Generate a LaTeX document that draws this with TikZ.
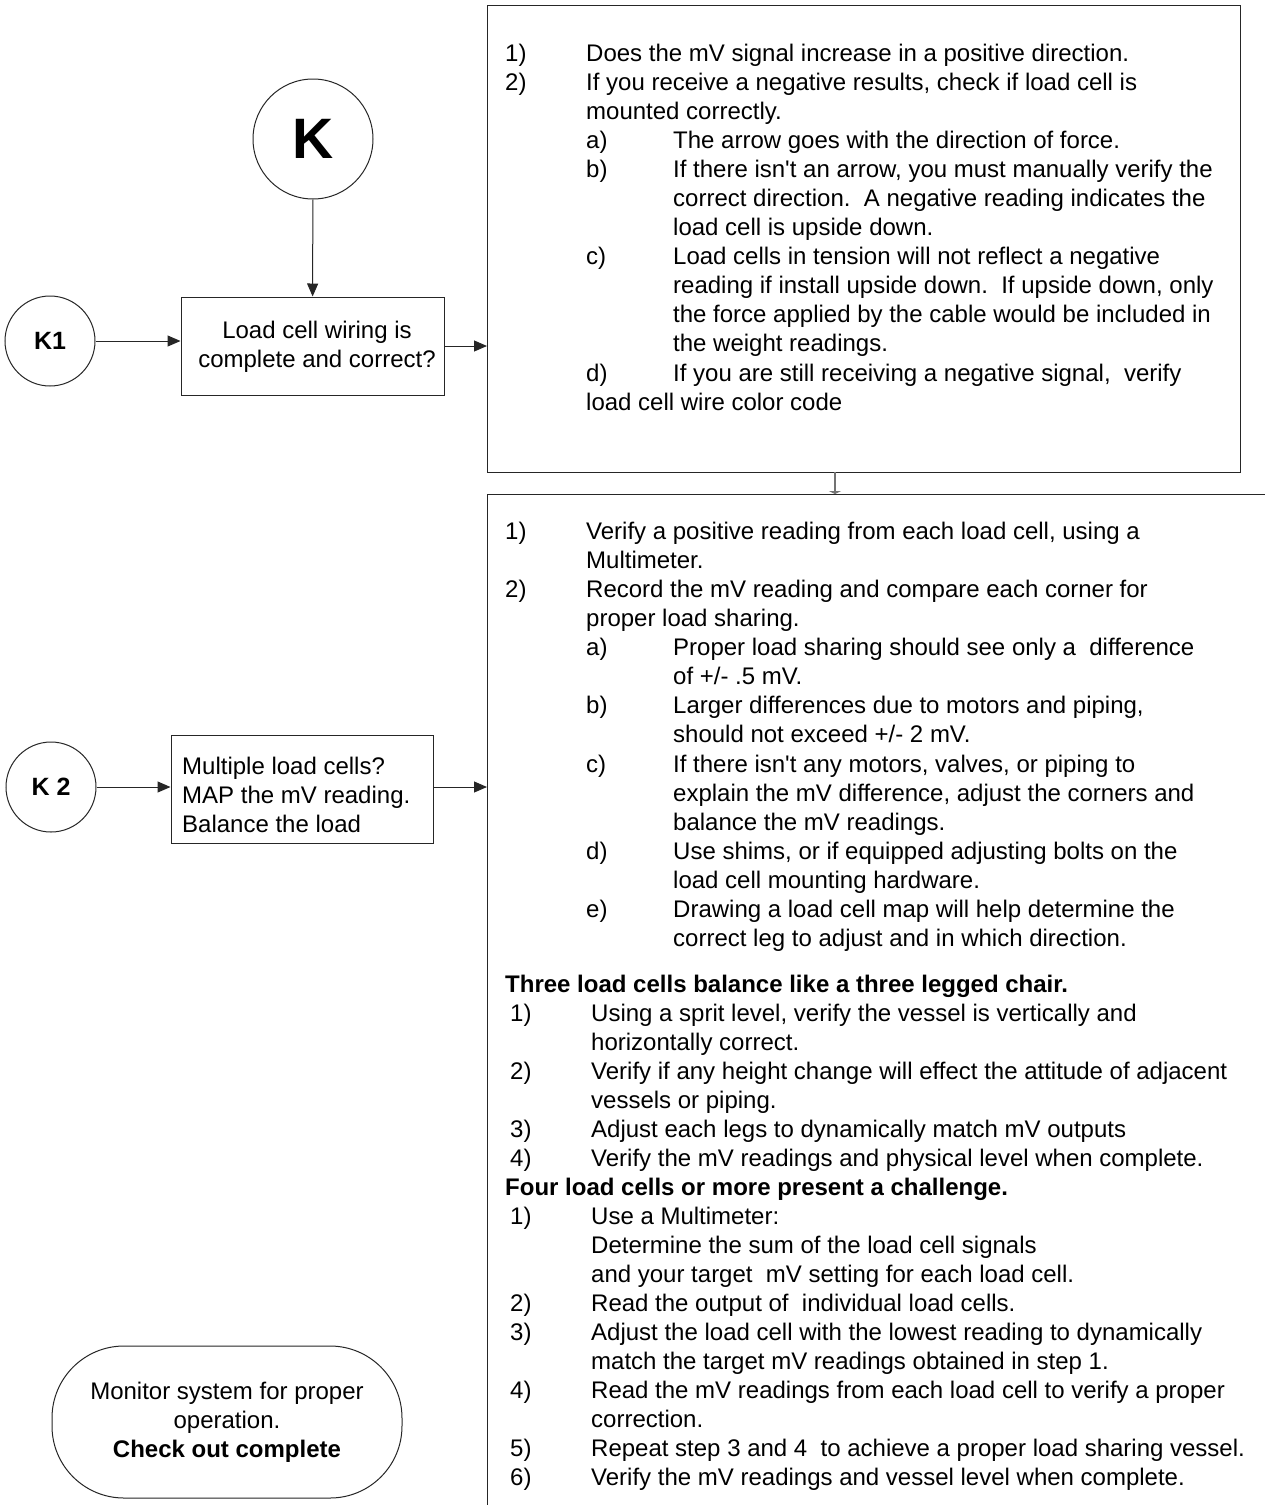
\documentclass[tikz,border=0pt]{standalone}
\usepackage{fontspec}
\setmainfont{Liberation Sans}
\usetikzlibrary{arrows.meta}
\newcommand{\apos}{\textquotesingle}
\tikzset{
  ln/.style={anchor=base west,inner sep=0pt,font=\fontsize{24}{29}\selectfont},
  lb/.style={ln,font=\fontsize{24}{29}\selectfont\bfseries},
  frame/.style={draw=black!85,line width=1pt},
  conn/.style={draw=black!85,line width=1pt,-{Triangle[length=13pt,width=11pt]}},
  circ/.style={frame,circle,inner sep=0pt},
  box/.style={frame,rectangle,inner sep=0pt,font=\fontsize{24}{29}\selectfont}
}
\begin{document}
\begin{tikzpicture}[x=1pt,y=-1pt]
\useasboundingbox[fill=white] (0,0) rectangle (1264,1505);
% circles
\node[circ,minimum size=120pt,font=\fontsize{57}{60}\selectfont\bfseries] (K) at (313,139) {K};
\node[circ,minimum size=90pt,font=\fontsize{25}{29}\selectfont\bfseries] (K1) at (50,341) {K1};
\node[circ,minimum size=90pt,font=\fontsize{25}{29}\selectfont\bfseries] (K2) at (51,787) {K 2};
% boxes
\node[box,minimum width=263pt,minimum height=98pt] (B1) at (312.5,346) {};
\node[inner sep=0pt,align=center,font=\fontsize{24}{29}\selectfont] (B1t) at (317,347) {Load cell wiring is\\complete and correct?};
\node[box,minimum width=262pt,minimum height=108pt] (B2) at (302,789) {};
\node[ln] (B2a) at (182,774) {Multiple load cells?};
\node[ln] (B2b) at (182,803) {MAP the mV reading.};
\node[ln] (B2c) at (182,832) {Balance the load};
\node[frame,rectangle,minimum width=753pt,minimum height=467pt,inner sep=0pt] (TB) at (863.5,238.5) {};
\node[frame,rectangle,rounded corners=72pt,minimum width=350pt,minimum height=152pt,align=center,font=\fontsize{24}{29}\selectfont] (T) at (227,1422) {Monitor system for proper\\operation.\\\textbf{Check out complete}};
% second big box (cropped at right and bottom)
\coordinate (SBtl) at (487,494);
\coordinate (SBtr) at (1270,494);
\coordinate (SBbl) at (487,1510);
\draw[frame] (SBtr) -- (SBtl) -- (SBbl);
\coordinate (SBin) at (487,787);
\coordinate (SBtop) at (835,494);
\coordinate (TBout) at (835,472);
\coordinate (TBin) at (487,346);
% connectors
\draw[conn] (K) -- (B1);
\draw[conn] (K1) -- (K1 -| B1.west);
\draw[conn] (B1.east |- TBin) -- (TBin);
\draw[conn] (K2) -- (K2 -| B2.west);
\draw[conn] (B2.east |- SBin) -- (SBin);
\draw[draw=black!55,line width=1.5pt,-{Triangle[length=3pt,width=12pt]}] (TBout) -- (SBtop);
% top box text
\node[ln] (t1n) at (505,61) {1)};
\node[ln] (t1) at (586,61) {Does the mV signal increase in a positive direction.};
\node[ln] (t2n) at (505,90) {2)};
\node[ln] (t2) at (586,90) {If you receive a negative results, check if load cell is};
\node[ln] (t3) at (586,119) {mounted correctly.};
\node[ln] (t4n) at (586,148) {a)};
\node[ln] (t4) at (673,148) {The arrow goes with the direction of force.};
\node[ln] (t5n) at (586,177) {b)};
\node[ln] (t5) at (673,177) {If there isn\apos t an arrow, you must manually verify the};
\node[ln] (t6) at (673,206) {correct direction.\ \ A negative reading indicates the};
\node[ln] (t7) at (673,235) {load cell is upside down.};
\node[ln] (t8n) at (586,264) {c)};
\node[ln] (t8) at (673,264) {Load cells in tension will not reflect a negative};
\node[ln] (t9) at (673,293) {reading if install upside down.\ \ If upside down, only};
\node[ln] (t10) at (673,322) {the force applied by the cable would be included in};
\node[ln] (t11) at (673,351) {the weight readings.};
\node[ln] (t12n) at (586,381) {d)};
\node[ln] (t12) at (673,381) {If you are still receiving a negative signal,\ \ verify};
\node[ln] (t13) at (586,410) {load cell wire color code};
% second box text
\node[ln] (s1n) at (505,539) {1)};
\node[ln] (s1) at (586,539) {Verify a positive reading from each load cell, using a};
\node[ln] (s2) at (586,568) {Multimeter.};
\node[ln] (s3n) at (505,597) {2)};
\node[ln] (s3) at (586,597) {Record the mV reading and compare each corner for};
\node[ln] (s4) at (586,626) {proper load sharing.};
\node[ln] (s5n) at (586,655) {a)};
\node[ln] (s5) at (673,655) {Proper load sharing should see only a\ \ difference};
\node[ln] (s6) at (673,684) {of +/- .5 mV.};
\node[ln] (s7n) at (586,713) {b)};
\node[ln] (s7) at (673,713) {Larger differences due to motors and piping,};
\node[ln] (s8) at (673,742) {should not exceed +/- 2 mV.};
\node[ln] (s9n) at (586,772) {c)};
\node[ln] (s9) at (673,772) {If there isn\apos t any motors, valves, or piping to};
\node[ln] (s10) at (673,801) {explain the mV difference, adjust the corners and};
\node[ln] (s11) at (673,830) {balance the mV readings.};
\node[ln] (s12n) at (586,859) {d)};
\node[ln] (s12) at (673,859) {Use shims, or if equipped adjusting bolts on the};
\node[ln] (s13) at (673,888) {load cell mounting hardware.};
\node[ln] (s14n) at (586,917) {e)};
\node[ln] (s14) at (673,917) {Drawing a load cell map will help determine the};
\node[ln] (s15) at (673,946) {correct leg to adjust and in which direction.};
\node[lb] (h1) at (505,992) {Three load cells balance like a three legged chair.};
\node[ln] (u1n) at (510,1021) {1)};
\node[ln] (u1) at (591,1021) {Using a sprit level, verify the vessel is vertically and};
\node[ln] (u2) at (591,1050) {horizontally correct.};
\node[ln] (u3n) at (510,1079) {2)};
\node[ln] (u3) at (591,1079) {Verify if any height change will effect the attitude of adjacent};
\node[ln] (u4) at (591,1108) {vessels or piping.};
\node[ln] (u5n) at (510,1137) {3)};
\node[ln] (u5) at (591,1137) {Adjust each legs to dynamically match mV outputs};
\node[ln] (u6n) at (510,1166) {4)};
\node[ln] (u6) at (591,1166) {Verify the mV readings and physical level when complete.};
\node[lb] (h2) at (505,1195) {Four load cells or more present a challenge.};
\node[ln] (v1n) at (510,1224) {1)};
\node[ln] (v1) at (591,1224) {Use a Multimeter:};
\node[ln] (v2) at (591,1253) {Determine the sum of the load cell signals};
\node[ln] (v3) at (591,1282) {and your target\ \ mV setting for each load cell.};
\node[ln] (v4n) at (510,1311) {2)};
\node[ln] (v4) at (591,1311) {Read the output of\ \ individual load cells.};
\node[ln] (v5n) at (510,1340) {3)};
\node[ln] (v5) at (591,1340) {Adjust the load cell with the lowest reading to dynamically};
\node[ln] (v6) at (591,1369) {match the target mV readings obtained in step 1.};
\node[ln] (v7n) at (510,1398) {4)};
\node[ln] (v7) at (591,1398) {Read the mV readings from each load cell to verify a proper};
\node[ln] (v8) at (591,1427) {correction.};
\node[ln] (v9n) at (510,1456) {5)};
\node[ln] (v9) at (591,1456) {Repeat step 3 and 4\ \ to achieve a proper load sharing vessel.};
\node[ln] (v10n) at (510,1485) {6)};
\node[ln] (v10) at (591,1485) {Verify the mV readings and vessel level when complete.};
\end{tikzpicture}
\end{document}
